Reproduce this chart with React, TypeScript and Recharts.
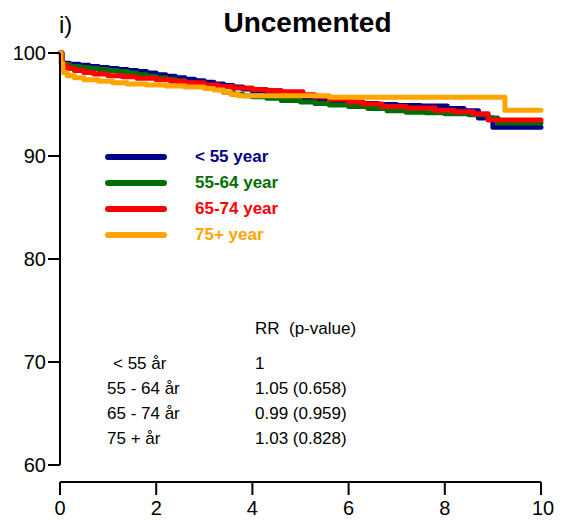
import React from "react";
import { LineChart, Line, XAxis, YAxis } from "recharts";

const yearTicks = [0, 2, 4, 6, 8, 10];
const survivalTicks = [60, 70, 80, 90, 100];

// Kaplan-Meier step points (years, % survival)
const under55Years = [0, 0.04, 0.2, 0.4, 0.6, 0.8, 1.0, 1.2, 1.4, 1.6, 1.8, 2.0, 2.2, 2.4, 2.6, 2.8, 3.0, 3.2, 3.4, 3.6, 3.8, 4.0, 4.3, 4.6, 5.0, 5.4, 5.8, 6.2, 6.6, 7.0, 7.5, 8.05, 8.4, 8.7, 9.0, 10];
const under55Surv = [100, 99.0, 98.9, 98.8, 98.7, 98.6, 98.5, 98.4, 98.3, 98.2, 98.05, 97.9, 97.75, 97.6, 97.45, 97.3, 97.15, 97.0, 96.85, 96.7, 96.5, 96.3, 96.1, 95.9, 95.6, 95.4, 95.25, 95.1, 95.0, 94.9, 94.85, 94.6, 94.4, 93.7, 92.8, 92.8];

const age55to64Years = [0, 0.04, 0.2, 0.4, 0.6, 0.8, 1.0, 1.2, 1.4, 1.6, 1.8, 2.0, 2.2, 2.4, 2.6, 2.8, 3.0, 3.2, 3.4, 3.6, 3.8, 4.0, 4.3, 4.6, 5.0, 5.3, 5.6, 6.0, 6.4, 6.8, 7.2, 7.6, 8.0, 8.5, 8.9, 9.1, 10];
const age55to64Surv = [100, 98.9, 98.7, 98.6, 98.5, 98.4, 98.3, 98.2, 98.05, 97.9, 97.75, 97.6, 97.45, 97.3, 97.1, 96.9, 96.7, 96.5, 96.2, 96.0, 95.85, 95.75, 95.6, 95.4, 95.25, 95.1, 94.95, 94.8, 94.6, 94.4, 94.25, 94.2, 94.1, 94.0, 93.7, 93.2, 93.2];

const age65to74Years = [0, 0.04, 0.15, 0.3, 0.5, 0.7, 1.0, 1.3, 1.6, 2.0, 2.3, 2.6, 3.0, 3.3, 3.6, 4.0, 4.3, 4.6, 5.05, 5.3, 5.6, 6.0, 6.3, 6.7, 7.2, 7.8, 8.2, 8.6, 8.9, 10];
const age65to74Surv = [100, 98.8, 98.5, 98.3, 98.1, 97.95, 97.8, 97.7, 97.55, 97.4, 97.25, 97.1, 96.9, 96.75, 96.6, 96.45, 96.35, 96.25, 95.95, 95.75, 95.5, 95.25, 95.05, 94.8, 94.65, 94.45, 94.3, 94.1, 93.5, 93.5];

const over75Years = [0, 0.02, 0.06, 0.15, 0.3, 0.5, 0.8, 1.1, 1.4, 1.8, 2.2, 2.6, 3.0, 3.2, 3.4, 3.55, 3.7, 5.6, 9.25, 10];
const over75Surv = [100, 99.0, 98.1, 97.8, 97.6, 97.4, 97.25, 97.1, 97.0, 96.9, 96.8, 96.7, 96.55, 96.4, 96.2, 96.0, 95.85, 95.7, 94.45, 94.45];

const seriesNames = ["< 55 year", "55-64 year", "65-74 year", "75+ year"];
const seriesColors = ["#000088", "#006e00", "#ff0000", "#ffa500"];

const tableHeader = "RR  (p-value)";
const tableGroups = ["< 55 år", "55 - 64 år", "65 - 74 år", "75 + år"];
const tableValues = ["1", "1.05 (0.658)", "0.99 (0.959)", "1.03 (0.828)"];

const toPoints = (years: number[], surv: number[]) =>
  years.map((t, i) => ({ t, v: surv[i] }));

const series = [
  toPoints(under55Years, under55Surv),
  toPoints(age55to64Years, age55to64Surv),
  toPoints(age65to74Years, age65to74Surv),
  toPoints(over75Years, over75Surv),
];

const FONT = '"Liberation Sans", Arial, sans-serif';

// x axis sits a little below the plot, detached from the y axis
function YearTick(props: any) {
  const { x, y, payload, index, width, visibleTicksCount } = props;
  const gap = 17;
  const axisW = typeof width === "number" ? width : 480;
  return (
    <g>
      {index === 0 && (
        <line x1={x} x2={x + axisW} y1={y + gap} y2={y + gap} stroke="#000" strokeWidth={2} />
      )}
      <line x1={x} x2={x} y1={y + gap} y2={y + gap + 13} stroke="#000" strokeWidth={2} />
      <text
        x={index === visibleTicksCount - 1 ? x + 2 : x}
        y={y + 50}
        textAnchor="middle"
        fontSize={20}
        fontFamily={FONT}
        fill="#000"
      >
        {payload.value}
      </text>
    </g>
  );
}

export default function App() {
  return (
    <div
      style={{
        position: "absolute",
        left: 0,
        top: 0,
        width: 563,
        height: 520,
        background: "#fff",
        fontFamily: FONT,
      }}
    >
      <LineChart
        width={563}
        height={520}
        margin={{ top: 53, right: 22, left: 0, bottom: 10 }}
      >
        <XAxis
          type="number"
          dataKey="t"
          domain={[0, 10]}
          ticks={yearTicks}
          axisLine={false}
          tickLine={false}
          tickSize={0}
          tickMargin={0}
          height={45}
          tick={<YearTick />}
          allowDuplicatedCategory={false}
        />
        <YAxis
          type="number"
          domain={[60, 100]}
          ticks={survivalTicks}
          width={60}
          axisLine={{ stroke: "#000", strokeWidth: 2 }}
          tickLine={{ stroke: "#000", strokeWidth: 2 }}
          tickSize={12}
          tickMargin={2}
          tick={{ fontSize: 20, fill: "#000", fontFamily: FONT }}
        />
        {series.map((pts, i) => (
          <Line
            key={seriesNames[i]}
            data={pts}
            dataKey="v"
            name={seriesNames[i]}
            type="stepAfter"
            stroke={seriesColors[i]}
            strokeWidth={5}
            strokeLinecap="round"
            strokeLinejoin="round"
            dot={false}
            activeDot={false}
            isAnimationActive={false}
          />
        ))}
      </LineChart>

      <div style={{ position: "absolute", left: 59, top: 11, fontSize: 24 }}>i)</div>
      <div
        style={{
          position: "absolute",
          left: 0,
          width: 615,
          top: 7,
          textAlign: "center",
          fontSize: 28,
          fontWeight: "bold",
        }}
      >
        Uncemented
      </div>

      {seriesNames.map((name, i) => (
        <div
          key={name}
          style={{
            position: "absolute",
            left: 105,
            top: 146 + i * 26,
            height: 22,
            display: "flex",
            alignItems: "center",
          }}
        >
          <div
            style={{
              width: 62,
              height: 6,
              borderRadius: 3,
              background: seriesColors[i],
              marginRight: 28,
            }}
          />
          <span style={{ color: seriesColors[i], fontWeight: "bold", fontSize: 17 }}>{name}</span>
        </div>
      ))}

      <div style={{ position: "absolute", left: 255, top: 319, fontSize: 17, whiteSpace: "pre" }}>
        {tableHeader}
      </div>
      {tableGroups.map((g, i) => (
        <React.Fragment key={g}>
          <div
            style={{
              position: "absolute",
              left: i === 0 ? 113 : 107,
              top: 354 + i * 25,
              fontSize: 17,
              whiteSpace: "pre",
            }}
          >
            {g}
          </div>
          <div style={{ position: "absolute", left: 255, top: 354 + i * 25, fontSize: 17 }}>
            {tableValues[i]}
          </div>
        </React.Fragment>
      ))}
    </div>
  );
}
